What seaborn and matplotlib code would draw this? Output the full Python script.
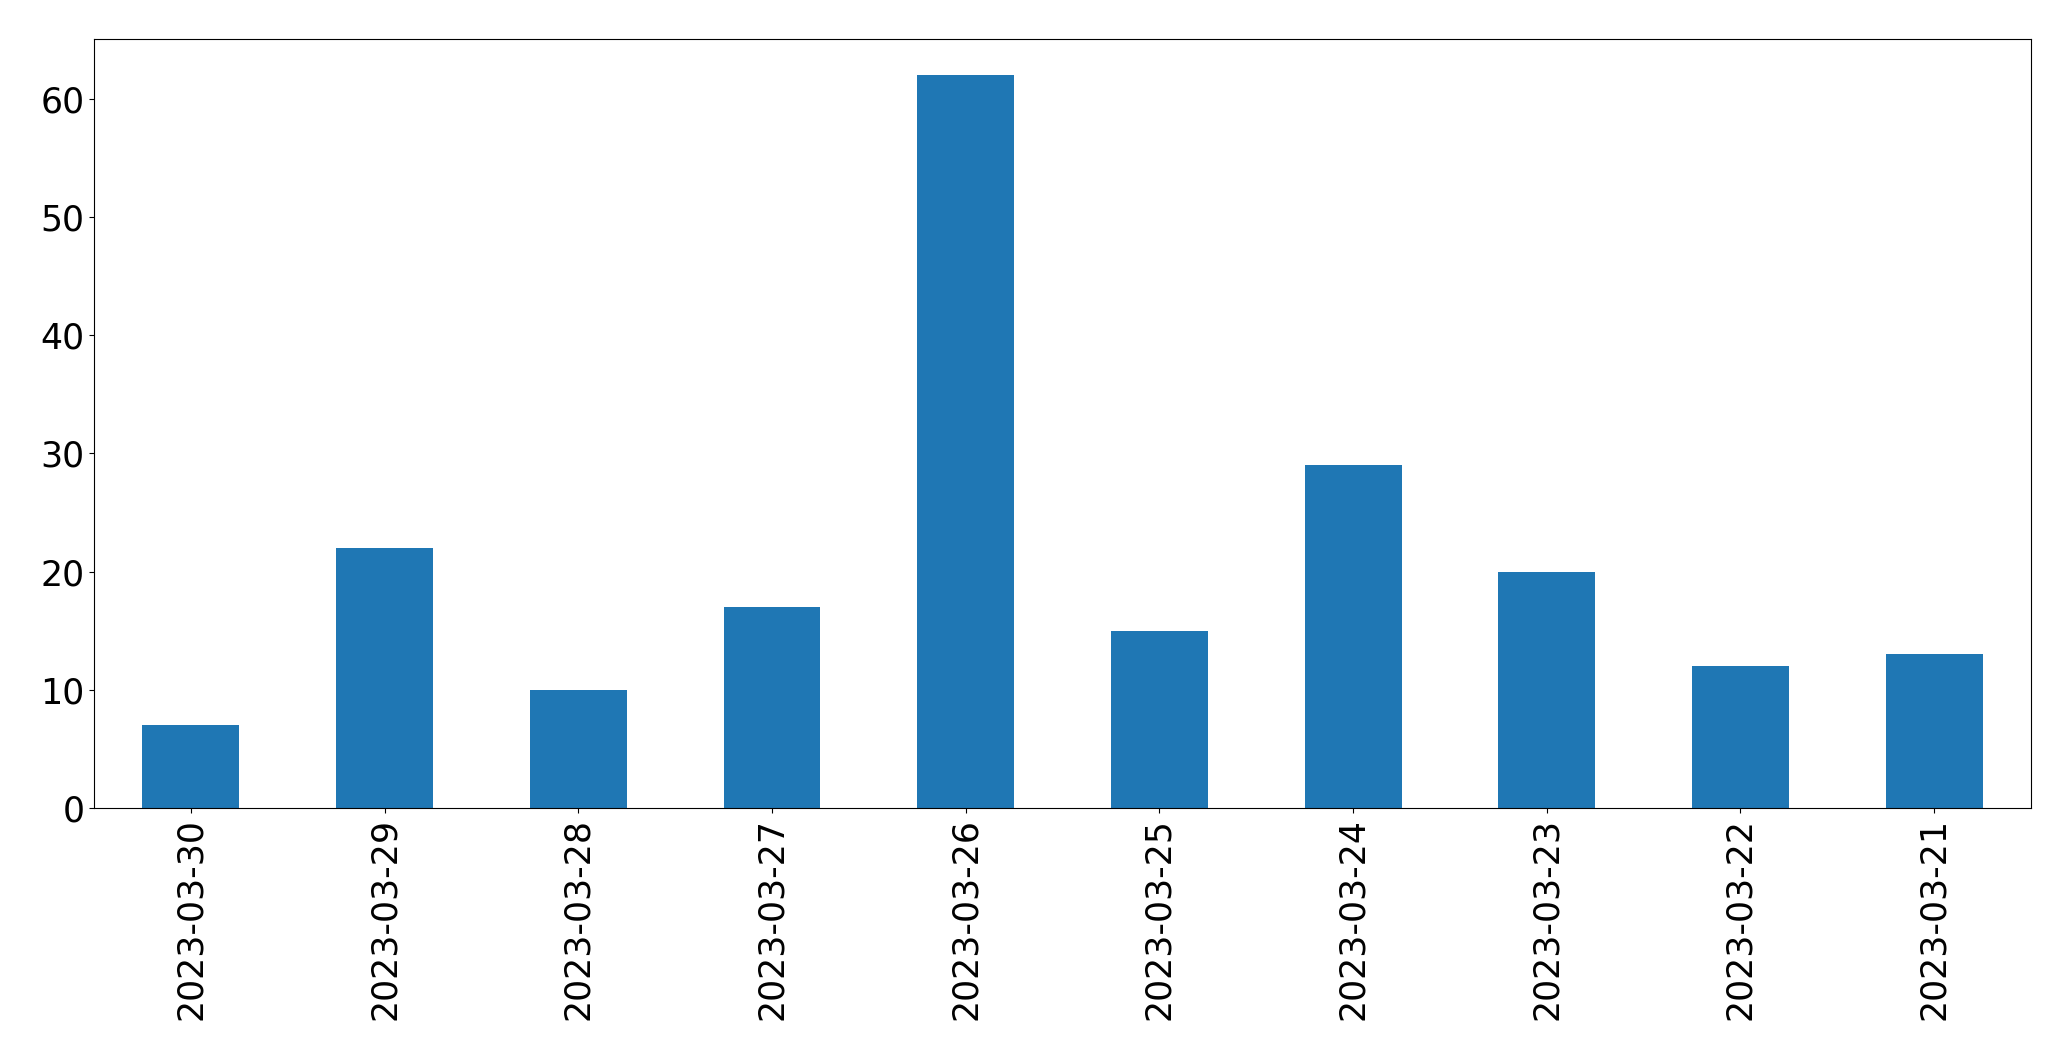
import matplotlib
matplotlib.use("Agg")
import matplotlib.pyplot as plt
import pandas as pd
import seaborn as sns

# Daily counts, newest first (as in the reference)
dates = ["2023-03-30", "2023-03-29", "2023-03-28", "2023-03-27", "2023-03-26",
         "2023-03-25", "2023-03-24", "2023-03-23", "2023-03-22", "2023-03-21"]
counts = [7, 22, 10, 17, 62, 15, 29, 20, 12, 13]

df = pd.DataFrame({"date": dates, "count": counts})

fig, ax = plt.subplots(figsize=(20.71, 10.61), dpi=100)
fig.subplots_adjust(left=0.0454, right=0.9807, top=0.9635, bottom=0.2385)

sns.barplot(data=df, x="date", y="count", order=dates, color="#1f77b4",
            saturation=1, width=0.5, ax=ax)

ax.set_xlabel("")
ax.set_ylabel("")
ax.set_xlim(-0.5, len(dates) - 0.5)
ax.set_ylim(0, 65.1)
ax.tick_params(axis="both", labelsize=25)
ax.tick_params(axis="x", labelrotation=90)

fig.savefig("out.png", dpi=100)
